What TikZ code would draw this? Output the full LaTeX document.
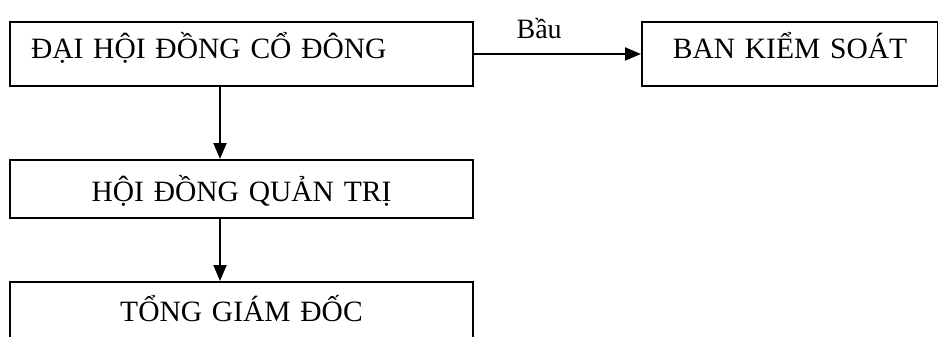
\documentclass[tikz,border=0pt]{standalone}
\usepackage{fontspec}
\setmainfont{Liberation Serif}
\usetikzlibrary{arrows.meta}
\begin{document}
\begin{tikzpicture}[x=1pt,y=-1pt,
  box/.style={draw, line width=2pt, inner ysep=0pt, inner xsep=0pt,
    anchor=north west, font=\fontsize{29.5}{32}\selectfont},
  arr/.style={line width=2pt, -{Triangle[length=16pt,width=13pt]}},
  lbl/.style={font=\fontsize{28}{30}\selectfont, inner sep=0pt}]
  \useasboundingbox (0,0) rectangle (938,337);
  \clip (0,0) rectangle (938,337);
  % shareholders' meeting (text set flush left)
  \node[box, inner xsep=21pt, text width=421pt, align=left,
        text height=37pt, text depth=27pt] (dh) at (9,21) {ĐẠI HỘI ĐỒNG CỔ ĐÔNG};
  % supervisory board
  \node[box, text width=296pt, align=center,
        text height=37pt, text depth=27pt] (bks) at (641,21) {BAN KIỂM SOÁT};
  % board of directors
  \node[box, text width=463pt, align=center,
        text height=41pt, text depth=17pt] (hd) at (9,159) {HỘI ĐỒNG QUẢN TRỊ};
  % general director (box runs past the lower edge)
  \node[box, text width=463pt, align=center,
        text height=39pt, text depth=80pt] (tgd) at (9,281) {TỔNG GIÁM ĐỐC};
  % connectors
  \draw[arr] (dh.east) -- node[lbl, pos=0.39, above=14pt] {Bầu} (bks.west);
  \draw[arr] ([xshift=-21.5pt]dh.south) -- ([xshift=-21.5pt]dh.south |- hd.north);
  \draw[arr] ([xshift=-21.5pt]hd.south) -- ([xshift=-21.5pt]hd.south |- tgd.north);
\end{tikzpicture}
\end{document}
